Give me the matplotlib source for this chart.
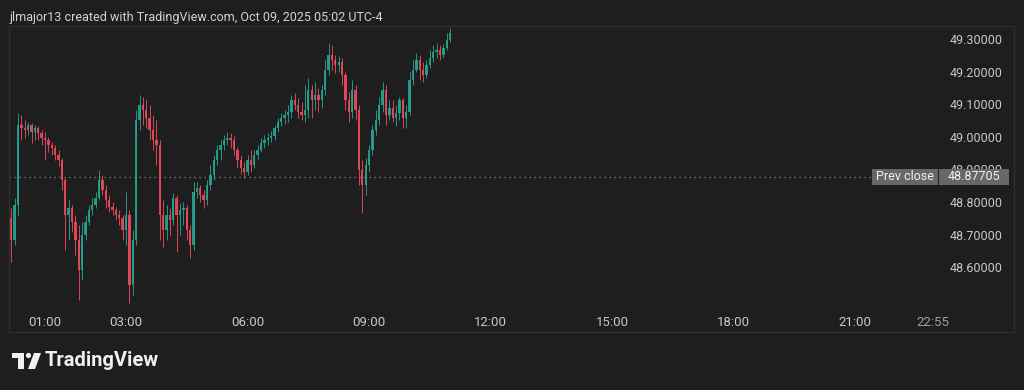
import matplotlib
matplotlib.use("Agg")
import matplotlib.pyplot as plt
import numpy as np
from matplotlib.patches import Rectangle, Polygon, Circle

# ---------------- data (5-minute candles, starting 00:10) ----------------
opens = [48.751, 48.683, 48.791, 49.036, 49.027, 49.021, 49.036, 49.015, 49.027, 49.012,
         48.996, 48.990, 48.975, 48.966, 48.944, 48.929, 48.867, 48.760, 48.781, 48.739,
         48.683, 48.591, 48.699, 48.739, 48.775, 48.791, 48.812, 48.867, 48.837, 48.806,
         48.785, 48.775, 48.760, 48.751, 48.714, 48.760, 48.545, 48.683, 49.052, 49.098,
         49.082, 49.058, 49.021, 48.990, 48.975, 48.760, 48.714, 48.760, 48.745, 48.812,
         48.760, 48.775, 48.781, 48.714, 48.668, 48.831, 48.843, 48.821, 48.806, 48.852,
         48.883, 48.929, 48.960, 48.975, 48.990, 48.996, 48.990, 48.960, 48.929, 48.904,
         48.892, 48.929, 48.913, 48.944, 48.960, 48.981, 48.990, 48.996, 49.002, 49.027,
         49.045, 49.058, 49.067, 49.076, 49.113, 49.098, 49.076, 49.067, 49.082, 49.144,
         49.113, 49.128, 49.113, 49.144, 49.205, 49.251, 49.236, 49.220, 49.229, 49.190,
         49.113, 49.076, 49.144, 49.082, 48.898, 48.852, 48.913, 48.960, 49.021, 49.052,
         49.098, 49.144, 49.067, 49.088, 49.058, 49.073, 49.113, 49.058, 49.076, 49.174,
         49.205, 49.236, 49.205, 49.190, 49.220, 49.242, 49.260, 49.266, 49.251, 49.272,
         49.297]
highs = [48.781, 48.812, 49.073, 49.067, 49.052, 49.045, 49.042, 49.036, 49.033, 49.021,
         49.015, 48.999, 48.984, 48.975, 48.960, 48.935, 48.874, 48.806, 48.791, 48.760,
         48.729, 48.739, 48.760, 48.791, 48.812, 48.831, 48.898, 48.883, 48.852, 48.821,
         48.800, 48.785, 48.775, 48.760, 48.831, 48.775, 48.714, 49.082, 49.128, 49.122,
         49.113, 49.098, 49.067, 49.052, 48.990, 48.806, 48.791, 48.781, 48.827, 48.821,
         48.797, 48.800, 48.791, 48.729, 48.861, 48.861, 48.852, 48.837, 48.867, 48.913,
         48.944, 48.975, 48.990, 49.006, 49.015, 49.012, 49.002, 48.969, 48.944, 48.923,
         48.944, 48.960, 48.960, 48.975, 48.996, 49.006, 49.012, 49.018, 49.036, 49.058,
         49.073, 49.082, 49.098, 49.128, 49.134, 49.119, 49.107, 49.159, 49.180, 49.159,
         49.168, 49.150, 49.159, 49.236, 49.288, 49.282, 49.251, 49.248, 49.242, 49.199,
         49.137, 49.174, 49.159, 49.098, 48.929, 48.935, 48.975, 49.036, 49.082, 49.122,
         49.168, 49.159, 49.113, 49.113, 49.098, 49.122, 49.119, 49.098, 49.199, 49.236,
         49.257, 49.251, 49.229, 49.236, 49.266, 49.282, 49.288, 49.282, 49.285, 49.318,
         49.334]
lows = [48.616, 48.668, 48.760, 48.990, 48.996, 49.006, 48.981, 48.990, 48.990, 48.975,
        48.929, 48.953, 48.944, 48.929, 48.910, 48.837, 48.653, 48.683, 48.708, 48.637,
        48.499, 48.561, 48.683, 48.729, 48.760, 48.781, 48.806, 48.821, 48.781, 48.769,
        48.760, 48.745, 48.729, 48.683, 48.668, 48.490, 48.515, 48.668, 49.021, 49.036,
        49.027, 48.990, 48.960, 48.913, 48.683, 48.662, 48.683, 48.699, 48.729, 48.646,
        48.699, 48.729, 48.683, 48.628, 48.653, 48.812, 48.800, 48.781, 48.791, 48.837,
        48.867, 48.913, 48.929, 48.960, 48.975, 48.966, 48.944, 48.904, 48.886, 48.874,
        48.883, 48.892, 48.904, 48.929, 48.953, 48.966, 48.975, 48.984, 48.990, 49.015,
        49.033, 49.039, 49.045, 49.058, 49.082, 49.058, 49.052, 49.045, 49.058, 49.058,
        49.082, 49.076, 49.088, 49.128, 49.190, 49.205, 49.196, 49.199, 49.159, 49.082,
        49.045, 49.058, 49.052, 48.852, 48.766, 48.821, 48.892, 48.944, 49.006, 49.036,
        49.076, 49.036, 49.052, 49.045, 49.033, 49.052, 49.027, 49.027, 49.067, 49.159,
        49.199, 49.174, 49.168, 49.180, 49.211, 49.229, 49.242, 49.236, 49.242, 49.266,
        49.291]
closes = [48.683, 48.791, 49.036, 49.027, 49.021, 49.036, 49.015, 49.027, 49.012, 48.996,
          48.990, 48.975, 48.966, 48.944, 48.929, 48.867, 48.760, 48.781, 48.739, 48.683,
          48.591, 48.699, 48.739, 48.775, 48.791, 48.812, 48.867, 48.837, 48.806, 48.785,
          48.775, 48.760, 48.751, 48.714, 48.760, 48.545, 48.683, 49.052, 49.098, 49.082,
          49.058, 49.021, 48.990, 48.975, 48.760, 48.714, 48.760, 48.745, 48.812, 48.760,
          48.775, 48.781, 48.714, 48.668, 48.831, 48.843, 48.821, 48.806, 48.852, 48.883,
          48.929, 48.960, 48.975, 48.990, 48.996, 48.990, 48.960, 48.929, 48.904, 48.892,
          48.929, 48.913, 48.944, 48.960, 48.981, 48.990, 48.996, 49.002, 49.027, 49.045,
          49.058, 49.067, 49.076, 49.113, 49.098, 49.076, 49.067, 49.082, 49.144, 49.113,
          49.128, 49.113, 49.144, 49.205, 49.251, 49.236, 49.220, 49.229, 49.190, 49.113,
          49.076, 49.144, 49.082, 48.898, 48.852, 48.913, 48.960, 49.021, 49.052, 49.098,
          49.144, 49.067, 49.088, 49.058, 49.073, 49.113, 49.058, 49.076, 49.174, 49.205,
          49.236, 49.205, 49.190, 49.220, 49.242, 49.260, 49.266, 49.251, 49.272, 49.297,
          49.318]
start_hour = 10 / 60          # first candle 00:10
bar_hours = 5 / 60            # 5-minute candles
prev_close = 48.87705

price_ticks = [48.6, 48.7, 48.8, 48.9, 49.0, 49.1, 49.2, 49.3]
time_ticks = [1, 3, 6, 9, 12, 15, 18, 21, 22 + 55 / 60]
time_labels = ["01:00", "03:00", "06:00", "09:00", "12:00", "15:00", "18:00", "21:00", "22:55"]
header = "jlmajor13 created with TradingView.com, Oct 09, 2025 05:02 UTC-4"

# ---------------- style ----------------
BG = "#1e1e1e"
UP = "#26a48f"
DOWN = "#ec4a5e"
TXT = "#c8c8c8"
FRAME = "#2f2f2f"
W, H = 1024, 390

plt.rcParams["font.family"] = ["Roboto", "DejaVu Sans"]

fig = plt.figure(figsize=(W / 100, H / 100), dpi=100)
fig.patch.set_facecolor(BG)

# main price pane (pixel box: x 9..939, y 26..310)
ax = fig.add_axes([9 / W, 1 - 310 / H, 930 / W, 284 / H])
ax.set_facecolor(BG)
ax.set_xlim(0.111, 23.07)
ax.set_ylim(48.469, 49.340)
for s in ax.spines.values():
    s.set_visible(False)

o = np.array(opens); h = np.array(highs); l = np.array(lows); c = np.array(closes)
t = start_hour + bar_hours * np.arange(len(c))
col = np.where(c >= o, UP, DOWN)
ax.vlines(t, l, h, colors=col, linewidth=0.7, alpha=0.9, zorder=3)
body_h = np.maximum(np.abs(c - o), 0.003)
ax.bar(t, body_h, bottom=np.minimum(o, c), width=bar_hours * 0.7,
       color=col, edgecolor="none", alpha=0.9, zorder=3)

ax.axhline(prev_close, color="#8a8a8a", linewidth=0.9, linestyle=(0, (1, 3)), zorder=2)

ax.set_xticks(time_ticks)
ax.set_xticklabels(time_labels)
ax.yaxis.tick_right()
ax.set_yticks(price_ticks)
ax.set_yticklabels([f"{v:.5f}" for v in price_ticks])
ax.tick_params(axis="x", length=0, pad=4.5, labelsize=9.5, colors=TXT)
ax.tick_params(axis="y", length=0, pad=7.5, labelsize=9, colors=TXT)
for lbl in ax.get_xticklabels()[-1:]:
    lbl.set_color("#a0a0a0")

# overlay in pixel coordinates
ov = fig.add_axes([0, 0, 1, 1])
ov.set_xlim(0, W)
ov.set_ylim(H, 0)
ov.axis("off")
ov.patch.set_alpha(0)
ov.set_zorder(5)

ov.add_patch(Rectangle((9, 26), 1005, 306, fill=False, edgecolor=FRAME, linewidth=1))

# prev close labels
py = H - ax.transData.transform((1, prev_close))[1]
ov.add_patch(Rectangle((872, py - 8), 66, 16, facecolor="#676767", edgecolor="none"))
ov.add_patch(Rectangle((939, py - 8), 70, 16, facecolor="#676767", edgecolor="none"))
ov.text(905, py, "Prev close", ha="center", va="center", fontsize=9, color="#f2f2f2")
ov.text(948, py, f"{prev_close:.5f}", ha="left", va="center", fontsize=9, color="#f2f2f2")

ov.text(9, 17.5, header, ha="left", va="center", fontsize=9, color="#d4d4d4")

# TradingView logo
ov.add_patch(Polygon([(12, 353), (24, 353), (24, 369), (18, 369), (18, 358), (12, 358)],
                     closed=True, facecolor="#f0f0f0", edgecolor="none"))
ov.add_patch(Circle((28.5, 355.5), 2.6, facecolor="#f0f0f0", edgecolor="none"))
ov.add_patch(Polygon([(34, 353), (41, 353), (35, 369), (28, 369)],
                     closed=True, facecolor="#f0f0f0", edgecolor="none"))
ov.text(45, 361, "TradingView", ha="left", va="center", fontsize=14.5,
        fontweight="bold", color="#f0f0f0")

fig.savefig("out.png", dpi=100, facecolor=BG)
